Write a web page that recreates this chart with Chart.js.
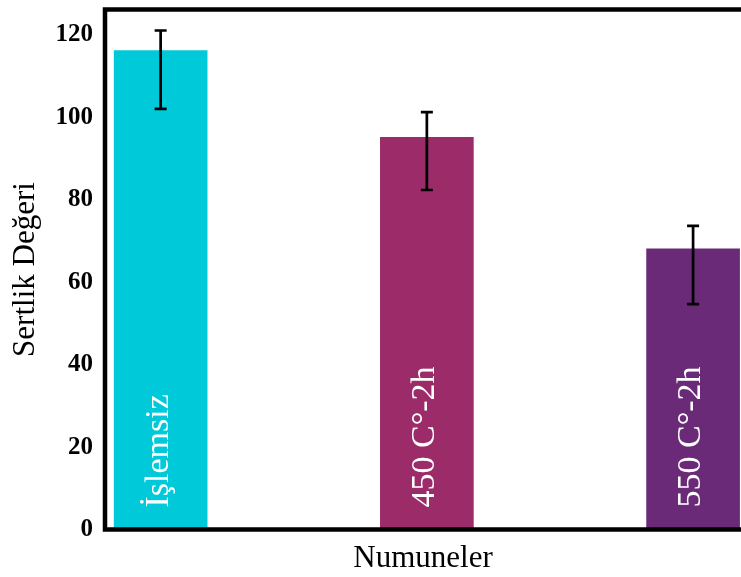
<!DOCTYPE html>
<html>
<head>
<meta charset="utf-8">
<script src="https://cdn.jsdelivr.net/npm/chart.js@4/dist/chart.umd.min.js"></script>
<style>
  html, body { margin: 0; padding: 0; background: #fff; overflow: hidden; }
  #chart { display: block; }
</style>
</head>
<body>
<canvas id="chart" width="741" height="577"></canvas>
<script>
/* ── data ── */
const CATEGORIES = ["İşlemsiz", "450 C°-2h", "550 C°-2h"];
const HARDNESS   = [116.2, 95.2, 68.1];
const ERR_LOW    = [102.1, 82.4, 54.7];
const ERR_HIGH   = [121.1, 101.3, 73.7];
const Y_TICKS    = [0, 20, 40, 60, 80, 100, 120];

const BAR_COLORS = ["#00c9d9", "#9c2b6a", "#6b2a77"];
const SERIF = "'Liberation Serif', serif";

/* ── plugins ── */
const boxPlugin = {
  id: "box",
  afterDraw(chart) {
    const { ctx, chartArea: a } = chart;
    ctx.save();
    ctx.strokeStyle = "#000";
    ctx.lineWidth = 4.5;
    ctx.beginPath();
    ctx.moveTo(a.right + 5, a.top);
    ctx.lineTo(a.left, a.top);
    ctx.lineTo(a.left, a.bottom);
    ctx.lineTo(a.right + 5, a.bottom);
    ctx.stroke();
    ctx.restore();
  },
};

const errorBarPlugin = {
  id: "errorBars",
  afterDatasetsDraw(chart) {
    const { ctx, scales: { x, y } } = chart;
    ctx.save();
    ctx.strokeStyle = "#000";
    ctx.lineWidth = 2.7;
    HARDNESS.forEach((_, i) => {
      const px = x.getPixelForValue(i + 1);
      const top = y.getPixelForValue(ERR_HIGH[i]);
      const bot = y.getPixelForValue(ERR_LOW[i]);
      ctx.beginPath();
      ctx.moveTo(px, top); ctx.lineTo(px, bot);
      ctx.moveTo(px - 6, top); ctx.lineTo(px + 6, top);
      ctx.moveTo(px - 6, bot); ctx.lineTo(px + 6, bot);
      ctx.stroke();
    });
    ctx.restore();
  },
};

const barLabelPlugin = {
  id: "barLabels",
  afterDatasetsDraw(chart) {
    const { ctx, scales: { x, y } } = chart;
    ctx.save();
    ctx.fillStyle = "#fff";
    ctx.font = "34px " + SERIF;
    ctx.textAlign = "left";
    ctx.textBaseline = "middle";
    CATEGORIES.forEach((lbl, i) => {
      ctx.save();
      ctx.translate(x.getPixelForValue(i + 1) - 2, y.getPixelForValue(0) - 22);
      ctx.rotate(-Math.PI / 2);
      ctx.fillText(lbl, 0, 0);
      ctx.restore();
    });
    ctx.restore();
  },
};

/* ── chart ── */
new Chart(document.getElementById("chart"), {
  type: "bar",
  data: {
    datasets: [{
      data: HARDNESS.map((v, i) => ({ x: i + 1, y: v })),
      backgroundColor: BAR_COLORS,
      borderWidth: 0,
      barThickness: 93,
    }],
  },
  options: {
    responsive: false,
    animation: false,
    layout: { padding: { top: 9.5, right: 0, bottom: 0, left: 0 } },
    plugins: { legend: { display: false }, tooltip: { enabled: false } },
    scales: {
      x: {
        type: "linear",
        offset: false,
        min: 0.791,
        max: 3.18,
        grid: { display: false },
        border: { display: false },
        ticks: { display: false },
        title: {
          display: true,
          text: "Numuneler",
          color: "#000",
          font: { family: SERIF, size: 31 },
          padding: { top: 0, bottom: 0 },
        },
        afterFit: s => { s.height = 47.5; s.paddingLeft = 0; s.paddingRight = 0; },
      },
      y: {
        min: 0,
        max: 126.2,
        grid: { display: false, drawTicks: false },
        border: { display: false },
        afterBuildTicks: s => { s.ticks = Y_TICKS.map(v => ({ value: v })); },
        ticks: {
          color: "#000",
          padding: 12,
          font: { family: SERIF, size: 25, weight: "bold" },
        },
        title: {
          display: true,
          text: "Sertlik Değeri",
          color: "#000",
          font: { family: SERIF, size: 31 },
          padding: { top: 7, bottom: 0 },
        },
        afterFit: s => { s.width = 105; s.paddingTop = 0; s.paddingBottom = 0; },
      },
    },
  },
  plugins: [errorBarPlugin, barLabelPlugin, boxPlugin],
});
</script>
</body>
</html>
